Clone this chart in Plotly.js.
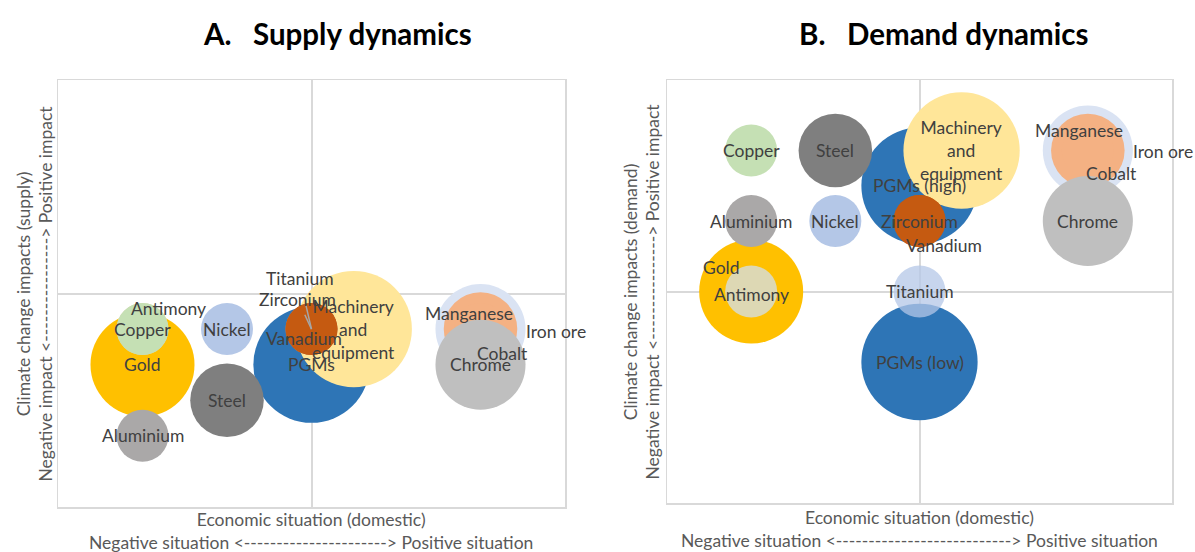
<!DOCTYPE html>
<html><head><meta charset="utf-8">
<script src="https://cdn.plot.ly/plotly-3.0.1.min.js"></script>
<style>html,body{margin:0;padding:0;background:#fff}#chart{width:1195px;height:552px}</style>
</head><body><div id="chart"></div>
<script>
// ---------- Data: A. Supply dynamics ----------
const supplyNames = ['Iron ore','Manganese','Cobalt','Chrome','Gold','Antimony','Copper','Aluminium','Nickel','PGMs','Steel','Machinery and equipment','Titanium','Zirconium','Vanadium'];
const supplyX     = [2, 2, 2, 2, -2, -2, -2, -2, -1, 0, -1, 0.5, 0, 0, 0];
const supplyY     = [-0.5, -0.5, -0.5, -1, -1, -0.5, -0.5, -2, -0.5, -1, -1.5, -0.5, -0.5, -0.5, -0.5];
const supplySize  = [3, 2, 1, 3, 4, 1, 1, 1, 1, 5, 2, 5, 1, 1, 1];

// ---------- Data: B. Demand dynamics ----------
const demandNames = ['Iron ore','Manganese','Cobalt','Chrome','Gold','Antimony','Copper','Aluminium','Nickel','PGMs (high)','Steel','Machinery and equipment','Vanadium','Zirconium','PGMs (low)','Titanium'];
const demandX     = [2, 2, 2, 2, -2, -2, -2, -2, -1, 0, -1, 0.5, 0, 0, 0, 0];
const demandY     = [2, 2, 2, 1, 0, 0, 2, 1, 1, 1.5, 2, 2, 1, 1, -1, 0];
const demandSize  = [3, 2, 1, 3, 4, 1, 1, 1, 1, 5, 2, 5, 1, 1, 5, 1];

// ---------- Styles ----------
const colors = {
  'Iron ore':'#dae3f3','Manganese':'#f4b183','Cobalt':'#f4b183','Chrome':'#bfbfbf',
  'Gold':'#ffc000','Antimony':'#ddd8b4','Copper':'#c5e0b4','Aluminium':'#aaa8a8',
  'Nickel':'#b4c7e7','PGMs':'#2e75b6','PGMs (high)':'#2e75b6','PGMs (low)':'#2e75b6',
  'Steel':'#7f7f7f','Machinery and equipment':'#ffe699','Titanium':'#b4c7e7',
  'Zirconium':'#c55a11','Vanadium':'#c55a11'
};
const opac = {'Titanium':0.75};
// label offsets in pixels from bubble centre [dx, dy] (dy positive = down)
const supplyLabelOff = {
  'Antimony':[26,-21],'Vanadium':[-8,9],'Iron ore':[75,2],'Manganese':[-12,-16],'Cobalt':[22,24]
};
const supplyLeaders = {'Titanium':[-12,-51],'Zirconium':[-14,-30]};
const demandLabelOff = {
  'Vanadium':[24,24],'Gold':[-30,-24],'Antimony':[0,3],'Iron ore':[75,1],'Manganese':[-9,-20],'Cobalt':[24,23]
};
const labelText = n => n === 'Machinery and equipment' ? 'Machinery<br>and<br>equipment' : n;

const FONT = 'Lato, "Open Sans", sans-serif';
const LBL = {family: FONT, size: 17.5, color: '#404040'};
const AXT = {family: FONT, size: 17.5, color: '#595959'};
const SIZEREF = 1/1352;

function bubbleTrace(names, xs, ys, sizes, xa, ya) {
  return {
    type: 'scatter', mode: 'markers', x: xs, y: ys, xaxis: xa, yaxis: ya,
    text: names, hoverinfo: 'text', showlegend: false,
    marker: {
      size: sizes, sizemode: 'area', sizeref: SIZEREF,
      color: names.map(n => colors[n]),
      opacity: names.map(n => opac[n] || 1),
      line: {width: 0}
    }
  };
}

function labels(names, xs, ys, offs, leaders, xa, ya) {
  const out = [];
  names.forEach((n, i) => {
    if (leaders && leaders[n]) {
      out.push({xref: xa, yref: ya, x: xs[i], y: ys[i], text: labelText(n), font: LBL,
        showarrow: true, arrowhead: 0, arrowcolor: '#a6a6a6', arrowwidth: 1.5,
        ax: leaders[n][0], ay: leaders[n][1], standoff: 0, startstandoff: n === 'Titanium' ? 16 : 4});
    } else {
      const o = offs[n] || [0, 0];
      out.push({xref: xa, yref: ya, x: xs[i], y: ys[i], text: labelText(n), font: LBL,
        showarrow: false, xshift: o[0], yshift: -o[1], xanchor: 'center', yanchor: 'middle'});
    }
  });
  return out;
}

const axisBase = {
  range: [-3, 3], showgrid: false, showticklabels: false, ticks: '',
  zeroline: true, zerolinecolor: '#d9d9d9', zerolinewidth: 2,
  showline: true, mirror: true, linecolor: '#d9d9d9', linewidth: 1.5, fixedrange: true
};

const W = 1195, H = 552;
const layout = {
  width: W, height: H, margin: {l: 0, r: 0, t: 0, b: 0},
  paper_bgcolor: '#ffffff', plot_bgcolor: '#ffffff', showlegend: false,
  xaxis:  Object.assign({}, axisBase, {domain: [58/W, 565/W], anchor: 'y'}),
  yaxis:  Object.assign({}, axisBase, {domain: [1-507/H, 1-80/H], anchor: 'x'}),
  xaxis2: Object.assign({}, axisBase, {domain: [667/W, 1172/W], anchor: 'y2'}),
  yaxis2: Object.assign({}, axisBase, {domain: [1-503/H, 1-80/H], anchor: 'x2'}),
  annotations: [].concat(
    labels(supplyNames, supplyX, supplyY, supplyLabelOff, supplyLeaders, 'x', 'y'),
    labels(demandNames, demandX, demandY, demandLabelOff, null, 'x2', 'y2'),
    [
      {xref:'paper', yref:'paper', x: 337/W, y: 1-33/H, showarrow:false, xanchor:'center', yanchor:'middle',
       text:'<b>A.   Supply dynamics</b>', font:{family:FONT, size:29.5, color:'#000000'}},
      {xref:'paper', yref:'paper', x: 943.5/W, y: 1-33/H, showarrow:false, xanchor:'center', yanchor:'middle',
       text:'<b>B.   Demand dynamics</b>', font:{family:FONT, size:29.5, color:'#000000'}},
      {xref:'paper', yref:'paper', x: 311.5/W, y: 1-530.5/H, showarrow:false, xanchor:'center', yanchor:'middle',
       text:'Economic situation (domestic)<br>Negative situation <----------------------> Positive situation', font: AXT},
      {xref:'paper', yref:'paper', x: 919.5/W, y: 1-529/H, showarrow:false, xanchor:'center', yanchor:'middle',
       text:'Economic situation (domestic)<br>Negative situation <---------------------------> Positive situation', font: AXT},
      {xref:'paper', yref:'paper', x: 34/W, y: 1-293.5/H, showarrow:false, xanchor:'center', yanchor:'middle', textangle:-90,
       text:'Climate change impacts (supply)<br>Negative impact <----------------> Positive impact', font: AXT},
      {xref:'paper', yref:'paper', x: 641/W, y: 1-291.5/H, showarrow:false, xanchor:'center', yanchor:'middle', textangle:-90,
       text:'Climate change impacts (demand)<br>Negative impact <----------------> Positive impact', font: AXT}
    ]
  )
};

const data = [
  bubbleTrace(supplyNames, supplyX, supplyY, supplySize, 'x', 'y'),
  bubbleTrace(demandNames, demandX, demandY, demandSize, 'x2', 'y2')
];
Plotly.newPlot('chart', data, layout, {displayModeBar: false, staticPlot: true});
</script>
</body></html>
